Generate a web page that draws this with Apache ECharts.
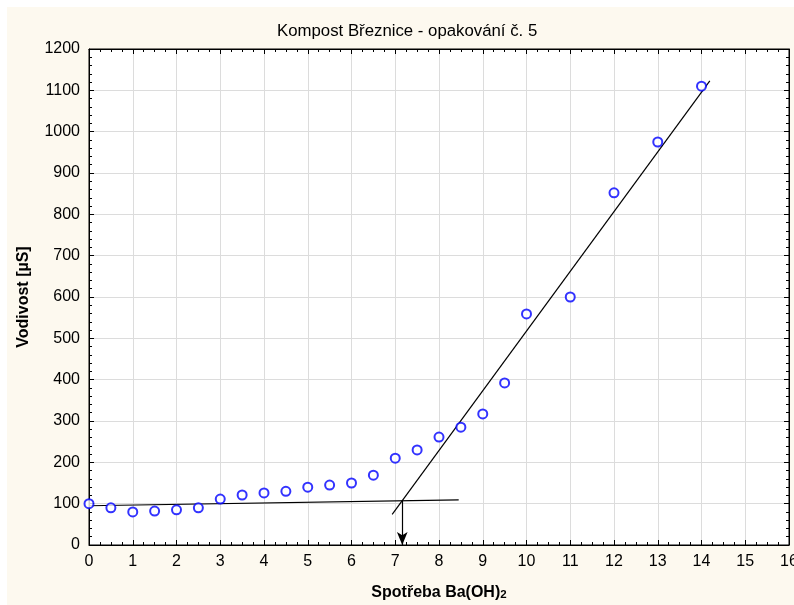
<!DOCTYPE html>
<html>
<head>
<meta charset="utf-8">
<script src="https://cdn.jsdelivr.net/npm/echarts@6/dist/echarts.min.js"></script>
<style>
  html, body { margin: 0; padding: 0; background: #ffffff; overflow: hidden; }
  #paper { position: absolute; left: 7px; top: 7px; right: 0; bottom: 0; background: #fdf9ef; }
  #chart { position: absolute; left: 0; top: 0; width: 794px; height: 605px; }
</style>
</head>
<body>
<div id="paper"></div>
<div id="chart"></div>
<script>
// Titration of compost sample: conductivity vs. Ba(OH)2 consumption
const consumption = [0, 0.5, 1, 1.5, 2, 2.5, 3, 3.5, 4, 4.5, 5, 5.5, 6, 6.5, 7, 7.5, 8, 8.5, 9, 9.5, 10, 11, 12, 13, 14];
const conductivity = [100, 90, 80, 82, 85, 90, 111, 121, 126, 130, 140, 145, 150, 169, 210, 230, 261, 285, 317, 392, 559, 600, 852, 975, 1110];

// Fitted straight lines (endpoints) and the equivalence point
const baselineX = [0, 8.45];
const baselineY = [95, 109];
const riseX = [6.93, 14.19];
const riseY = [74, 1123];
const equivalenceX = 7.16;
const equivalenceY = 107;

const xTicks = { min: 0, max: 16, interval: 1 };
const yTicks = { min: 0, max: 1200, interval: 100 };

const font = 'Liberation Sans, Arial, sans-serif';

const points = consumption.map((x, i) => [x, conductivity[i]]);
const baseline = baselineX.map((x, i) => [x, baselineY[i]]);
const rise = riseX.map((x, i) => [x, riseY[i]]);

const chart = echarts.init(document.getElementById('chart'), null, { renderer: 'canvas' });

function boxAxis(base, extra) {
  return Object.assign({
    type: 'value',
    min: base.min, max: base.max, interval: base.interval,
    axisLine: { show: true, onZero: false, lineStyle: { color: '#000', width: 1 } },
    axisTick: { show: true, inside: true, length: 5, lineStyle: { color: '#000', width: 1 } },
    minorTick: { show: true, length: 3, lineStyle: { color: '#000', width: 1 } },
    splitLine: { show: false },
    axisLabel: { show: false }
  }, extra);
}

chart.setOption({
  animation: false,
  title: {
    text: 'Kompost Březnice - opakování č. 5',
    left: 272, top: 18,
    textStyle: { fontFamily: font, fontSize: 16.8, fontWeight: 'normal', color: '#000' }
  },
  grid: {
    left: 89, right: 5, top: 49, bottom: 60,
    outerBoundsMode: 'none', containLabel: false,
    show: true, backgroundColor: '#ffffff', borderColor: '#000', borderWidth: 1
  },
  xAxis: [
    boxAxis(xTicks, {
      position: 'bottom',
      minorTick: { show: true, splitNumber: 4, length: 3, lineStyle: { color: '#000', width: 1 } },
      splitLine: { show: true, lineStyle: { color: '#dcdcdc', width: 1 } },
      axisLabel: { show: true, margin: 9, fontFamily: font, fontSize: 16, color: '#000' },
      name: '{a|Spotřeba Ba(OH)}{s|2}',
      nameLocation: 'middle', nameGap: 40,
      nameTextStyle: {
        rich: {
          a: { fontFamily: font, fontSize: 16, fontWeight: 'bold', color: '#000', verticalAlign: 'top', lineHeight: 16 },
          s: { fontFamily: font, fontSize: 11.5, fontWeight: 'bold', color: '#000', verticalAlign: 'bottom', lineHeight: 12, padding: [8, 0, 0, 0] }
        }
      }
    }),
    boxAxis(xTicks, {
      position: 'top',
      minorTick: { show: true, splitNumber: 4, length: 3, lineStyle: { color: '#000', width: 1 } }
    })
  ],
  yAxis: [
    boxAxis(yTicks, {
      position: 'left',
      minorTick: { show: true, splitNumber: 5, length: 3, lineStyle: { color: '#000', width: 1 } },
      splitLine: { show: true, lineStyle: { color: '#dcdcdc', width: 1 } },
      axisLabel: { show: true, margin: 9, fontFamily: font, fontSize: 16, color: '#000', formatter: v => String(v) },
      name: 'Vodivost [µS]',
      nameLocation: 'middle', nameGap: 57,
      nameTextStyle: { fontFamily: font, fontSize: 16, fontWeight: 'bold', color: '#000' }
    }),
    boxAxis(yTicks, {
      position: 'right',
      minorTick: { show: true, splitNumber: 5, length: 3, lineStyle: { color: '#000', width: 1 } }
    })
  ],
  series: [
    {
      name: 'baseline', type: 'line', data: baseline,
      symbol: 'none', lineStyle: { color: '#000', width: 1.2 }, z: 3
    },
    {
      name: 'rise', type: 'line', data: rise,
      symbol: 'none', lineStyle: { color: '#000', width: 1.2 }, z: 3,
      markLine: {
        silent: true, animation: false,
        symbol: ['none', 'arrow'], symbolSize: [8, 13],
        label: { show: false },
        lineStyle: { color: '#000', width: 1.2, type: 'solid' },
        data: [[{ coord: [equivalenceX, equivalenceY] }, { coord: [equivalenceX, 0] }]]
      }
    },
    {
      name: 'measured', type: 'scatter', data: points,
      symbol: 'emptyCircle', symbolSize: 9,
      itemStyle: { color: '#0000ff', borderColor: '#0000ff', borderWidth: 1.5 },
      z: 4
    }
  ]
});
</script>
</body>
</html>
